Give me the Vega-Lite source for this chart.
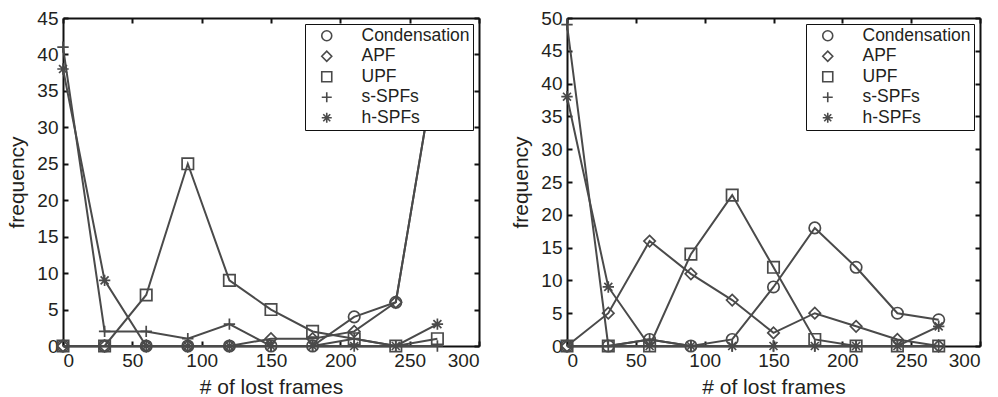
{
  "$schema": "https://vega.github.io/schema/vega-lite/v6.json",
  "background": "white",
  "padding": {"left": 6, "top": 9, "right": 5, "bottom": 5},
  "bounds": "flush",
  "spacing": 88,
  "datasets": {
    "left": [
      {"x": 0, "series": "Condensation", "f": 0}, {"x": 30, "series": "Condensation", "f": 0}, {"x": 60, "series": "Condensation", "f": 0}, {"x": 90, "series": "Condensation", "f": 0}, {"x": 120, "series": "Condensation", "f": 0}, {"x": 150, "series": "Condensation", "f": 0}, {"x": 180, "series": "Condensation", "f": 0}, {"x": 210, "series": "Condensation", "f": 4}, {"x": 240, "series": "Condensation", "f": 6}, {"x": 270, "series": "Condensation", "f": 40},
      {"x": 0, "series": "APF", "f": 0}, {"x": 30, "series": "APF", "f": 0}, {"x": 60, "series": "APF", "f": 0}, {"x": 90, "series": "APF", "f": 0}, {"x": 120, "series": "APF", "f": 0}, {"x": 150, "series": "APF", "f": 1}, {"x": 180, "series": "APF", "f": 1}, {"x": 210, "series": "APF", "f": 2}, {"x": 240, "series": "APF", "f": 6}, {"x": 270, "series": "APF", "f": 40},
      {"x": 0, "series": "UPF", "f": 0}, {"x": 30, "series": "UPF", "f": 0}, {"x": 60, "series": "UPF", "f": 7}, {"x": 90, "series": "UPF", "f": 25}, {"x": 120, "series": "UPF", "f": 9}, {"x": 150, "series": "UPF", "f": 5}, {"x": 180, "series": "UPF", "f": 2}, {"x": 210, "series": "UPF", "f": 1}, {"x": 240, "series": "UPF", "f": 0}, {"x": 270, "series": "UPF", "f": 1},
      {"x": 0, "series": "s-SPFs", "f": 41}, {"x": 30, "series": "s-SPFs", "f": 2}, {"x": 60, "series": "s-SPFs", "f": 2}, {"x": 90, "series": "s-SPFs", "f": 1}, {"x": 120, "series": "s-SPFs", "f": 3}, {"x": 150, "series": "s-SPFs", "f": 0}, {"x": 180, "series": "s-SPFs", "f": 0}, {"x": 210, "series": "s-SPFs", "f": 1}, {"x": 240, "series": "s-SPFs", "f": 0}, {"x": 270, "series": "s-SPFs", "f": 0},
      {"x": 0, "series": "h-SPFs", "f": 38}, {"x": 30, "series": "h-SPFs", "f": 9}, {"x": 60, "series": "h-SPFs", "f": 0}, {"x": 90, "series": "h-SPFs", "f": 0}, {"x": 120, "series": "h-SPFs", "f": 0}, {"x": 150, "series": "h-SPFs", "f": 0}, {"x": 180, "series": "h-SPFs", "f": 0}, {"x": 210, "series": "h-SPFs", "f": 0}, {"x": 240, "series": "h-SPFs", "f": 0}, {"x": 270, "series": "h-SPFs", "f": 3}
    ],
    "right": [
      {"x": 0, "series": "Condensation", "f": 0}, {"x": 30, "series": "Condensation", "f": 0}, {"x": 60, "series": "Condensation", "f": 1}, {"x": 90, "series": "Condensation", "f": 0}, {"x": 120, "series": "Condensation", "f": 1}, {"x": 150, "series": "Condensation", "f": 9}, {"x": 180, "series": "Condensation", "f": 18}, {"x": 210, "series": "Condensation", "f": 12}, {"x": 240, "series": "Condensation", "f": 5}, {"x": 270, "series": "Condensation", "f": 4},
      {"x": 0, "series": "APF", "f": 0}, {"x": 30, "series": "APF", "f": 5}, {"x": 60, "series": "APF", "f": 16}, {"x": 90, "series": "APF", "f": 11}, {"x": 120, "series": "APF", "f": 7}, {"x": 150, "series": "APF", "f": 2}, {"x": 180, "series": "APF", "f": 5}, {"x": 210, "series": "APF", "f": 3}, {"x": 240, "series": "APF", "f": 1}, {"x": 270, "series": "APF", "f": 0},
      {"x": 0, "series": "UPF", "f": 0}, {"x": 30, "series": "UPF", "f": 0}, {"x": 60, "series": "UPF", "f": 0}, {"x": 90, "series": "UPF", "f": 14}, {"x": 120, "series": "UPF", "f": 23}, {"x": 150, "series": "UPF", "f": 12}, {"x": 180, "series": "UPF", "f": 1}, {"x": 210, "series": "UPF", "f": 0}, {"x": 240, "series": "UPF", "f": 0}, {"x": 270, "series": "UPF", "f": 0},
      {"x": 0, "series": "s-SPFs", "f": 49}, {"x": 30, "series": "s-SPFs", "f": 0}, {"x": 60, "series": "s-SPFs", "f": 1}, {"x": 90, "series": "s-SPFs", "f": 0}, {"x": 120, "series": "s-SPFs", "f": 0}, {"x": 150, "series": "s-SPFs", "f": 0}, {"x": 180, "series": "s-SPFs", "f": 0}, {"x": 210, "series": "s-SPFs", "f": 0}, {"x": 240, "series": "s-SPFs", "f": 0}, {"x": 270, "series": "s-SPFs", "f": 0},
      {"x": 0, "series": "h-SPFs", "f": 38}, {"x": 30, "series": "h-SPFs", "f": 9}, {"x": 60, "series": "h-SPFs", "f": 0}, {"x": 90, "series": "h-SPFs", "f": 0}, {"x": 120, "series": "h-SPFs", "f": 0}, {"x": 150, "series": "h-SPFs", "f": 0}, {"x": 180, "series": "h-SPFs", "f": 0}, {"x": 210, "series": "h-SPFs", "f": 0}, {"x": 240, "series": "h-SPFs", "f": 0}, {"x": 270, "series": "h-SPFs", "f": 3}
    ]
  },
  "config": {
    "font": "Liberation Sans",
    "view": {"stroke": null},
    "axis": {
      "domainColor": "#111", "domainWidth": 2, "tickColor": "#111", "tickWidth": 2, "tickSize": -5,
      "labelFont": "Liberation Sans", "labelFontSize": 19, "labelColor": "#231f20", "labelPadding": 10,
      "titleFont": "Liberation Sans", "titleFontSize": 21, "titleFontWeight": "normal", "titleColor": "#231f20",
      "grid": false
    },
    "legend": {
      "orient": "top-right", "offset": 6, "strokeColor": "#111", "fillColor": "white", "padding": 3,
      "labelFont": "Liberation Sans", "labelFontSize": 17.5, "labelColor": "#231f20",
      "symbolSize": 100, "symbolStrokeColor": "#4a4a4a", "symbolStrokeWidth": 1.6, "symbolOffset": 10, "labelOffset": 26, "rowPadding": 1.5
    }
  },
  "hconcat": [
    {
      "width": 416, "height": 328,
      "data": {"name": "left"},
      "layer": [
        {
          "mark": {"type": "line", "color": "#4a4a4a", "strokeWidth": 2},
          "encoding": {
            "x": {"field": "x", "type": "quantitative", "scale": {"domain": [0, 300]}, "axis": {"orient": "bottom", "values": [0, 50, 100, 150, 200, 250, 300], "title": "# of lost frames", "titlePadding": 6}},
            "y": {"field": "f", "type": "quantitative", "scale": {"domain": [0, 45]}, "axis": {"orient": "left", "values": [0, 5, 10, 15, 20, 25, 30, 35, 40, 45], "title": "frequency", "titlePadding": 9}},
            "detail": {"field": "series"}
          }
        },
        {
          "mark": {"type": "point", "filled": false, "color": "#4a4a4a", "strokeWidth": 1.7, "size": 130, "opacity": 1},
          "encoding": {
            "x": {"field": "x", "type": "quantitative", "axis": {"orient": "top", "labels": false, "title": null, "values": [0, 50, 100, 150, 200, 250, 300]}},
            "y": {"field": "f", "type": "quantitative", "axis": {"orient": "right", "labels": false, "title": null, "values": [0, 5, 10, 15, 20, 25, 30, 35, 40, 45]}},
            "shape": {
              "field": "series", "type": "nominal",
              "scale": {"domain": ["Condensation", "APF", "UPF", "s-SPFs", "h-SPFs"], "range": ["circle", "diamond", "square", "M-1,0H1M0,-1V1", "M-1,0H1M0,-1V1M-0.7,-0.7L0.7,0.7M-0.7,0.7L0.7,-0.7"]},
              "legend": {"title": null}
            }
          }
        }
      ],
      "resolve": {"axis": {"x": "independent", "y": "independent"}}
    },
    {
      "width": 413, "height": 328,
      "data": {"name": "right"},
      "layer": [
        {
          "mark": {"type": "line", "color": "#4a4a4a", "strokeWidth": 2},
          "encoding": {
            "x": {"field": "x", "type": "quantitative", "scale": {"domain": [0, 300]}, "axis": {"orient": "bottom", "values": [0, 50, 100, 150, 200, 250, 300], "title": "# of lost frames", "titlePadding": 6}},
            "y": {"field": "f", "type": "quantitative", "scale": {"domain": [0, 50]}, "axis": {"orient": "left", "values": [0, 5, 10, 15, 20, 25, 30, 35, 40, 45, 50], "title": "frequency", "titlePadding": 9}},
            "detail": {"field": "series"}
          }
        },
        {
          "mark": {"type": "point", "filled": false, "color": "#4a4a4a", "strokeWidth": 1.7, "size": 130, "opacity": 1},
          "encoding": {
            "x": {"field": "x", "type": "quantitative", "axis": {"orient": "top", "labels": false, "title": null, "values": [0, 50, 100, 150, 200, 250, 300]}},
            "y": {"field": "f", "type": "quantitative", "axis": {"orient": "right", "labels": false, "title": null, "values": [0, 5, 10, 15, 20, 25, 30, 35, 40, 45, 50]}},
            "shape": {
              "field": "series", "type": "nominal",
              "scale": {"domain": ["Condensation", "APF", "UPF", "s-SPFs", "h-SPFs"], "range": ["circle", "diamond", "square", "M-1,0H1M0,-1V1", "M-1,0H1M0,-1V1M-0.7,-0.7L0.7,0.7M-0.7,0.7L0.7,-0.7"]},
              "legend": {"title": null}
            }
          }
        }
      ],
      "resolve": {"axis": {"x": "independent", "y": "independent"}}
    }
  ],
  "resolve": {"scale": {"shape": "independent"}, "legend": {"shape": "independent"}}
}
